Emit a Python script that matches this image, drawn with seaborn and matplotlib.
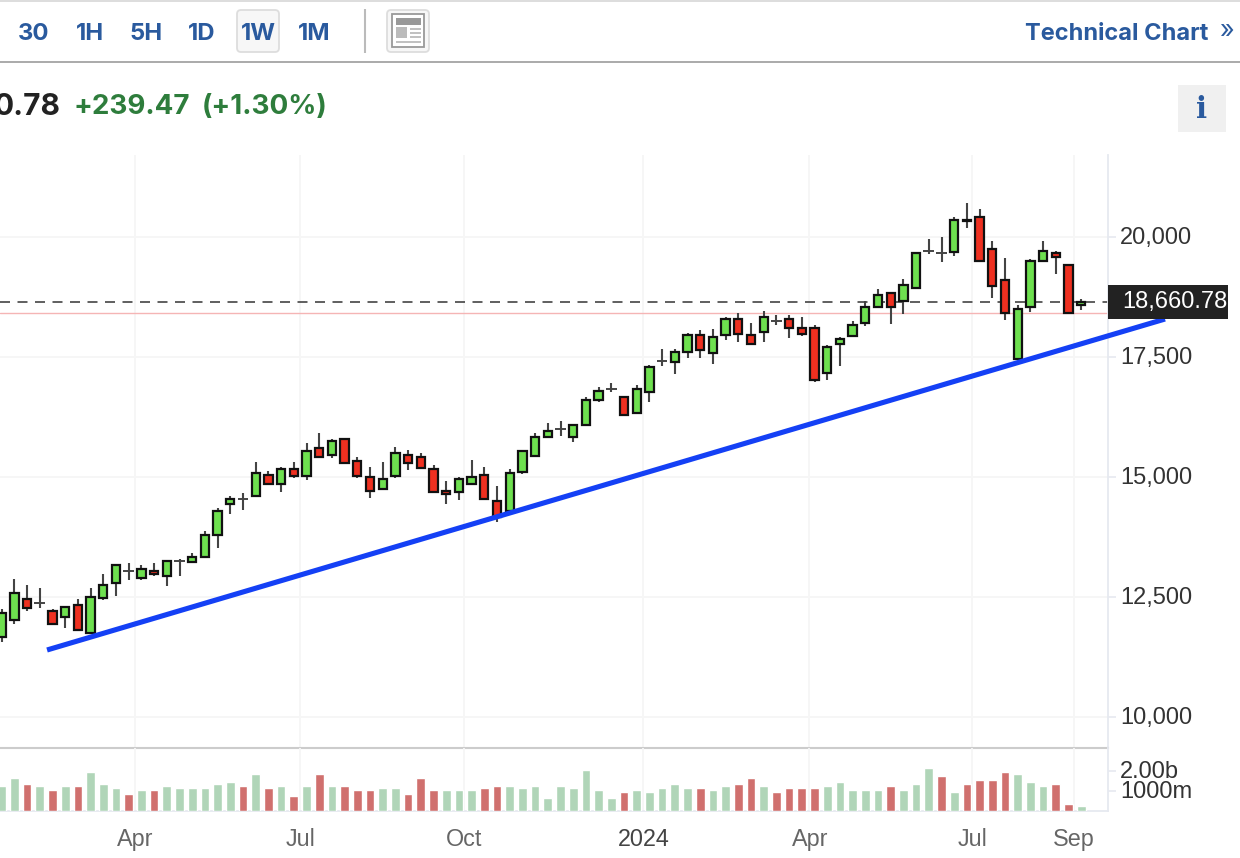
import matplotlib
matplotlib.use('Agg')
import matplotlib.pyplot as plt
from matplotlib.patches import FancyBboxPatch, Rectangle
from matplotlib.transforms import ScaledTranslation
import numpy as np
import pandas as pd
import seaborn as sns

# weekly candles
opens = [11670, 12030, 12460, 12390, 12210, 12080, 12330, 11750, 12480, 12790,
         13040, 12900, 13040, 12950, 13260, 13240, 13330, 13790, 14450, 14550,
         14620, 15040, 14870, 15170, 15030, 15620, 15460, 15790, 15330, 15000,
         14750, 15030, 15460, 15420, 15170, 14720, 14700, 14870, 15040, 14500,
         14290, 15120, 15450, 15830, 16000, 15830, 16080, 16620, 16840, 16670,
         16330, 16780, 17420, 17410, 17620, 17960, 17580, 17960, 18290, 17960,
         18030, 18250, 18290, 18120, 18120, 17170, 17780, 17950, 18210, 18540,
         18830, 18670, 18950, 19710, 19670, 19700, 20370, 20420, 19750, 19120,
         17460, 18540, 19500, 19680, 19420, 18580]
closes = [12170, 12580, 12280, 12390, 11940, 12290, 11820, 12500, 12750, 13170,
          13040, 13080, 12990, 13250, 13260, 13330, 13790, 14290, 14540, 14550,
          15080, 14870, 15170, 15030, 15540, 15420, 15750, 15290, 15030, 14710,
          14960, 15500, 15290, 15200, 14700, 14660, 14960, 15000, 14540, 14180,
          15080, 15540, 15830, 15960, 16000, 16080, 16620, 16790, 16840, 16290,
          16830, 17290, 17420, 17620, 17960, 17660, 17920, 18290, 17990, 17780,
          18330, 18250, 18120, 17990, 17030, 17720, 17880, 18170, 18540, 18790,
          18540, 19000, 19670, 19710, 19670, 20370, 20330, 19500, 18990, 18420,
          18500, 19500, 19710, 19580, 18420, 18660.78]
highs = [12250, 12880, 12760, 12690, 12250, 12290, 12460, 12690, 12980, 13170,
         13220, 13180, 13220, 13260, 13300, 13420, 13880, 14350, 14600, 14670,
         15310, 15140, 15220, 15310, 15720, 15930, 15800, 15790, 15430, 15220,
         15310, 15640, 15560, 15510, 15260, 14920, 15010, 15350, 15220, 14810,
         15180, 15560, 15930, 16140, 16180, 16090, 16670, 16890, 16970, 16680,
         16930, 17340, 17680, 17670, 18000, 18060, 18100, 18350, 18430, 18220,
         18470, 18390, 18390, 18350, 18170, 17760, 17930, 18260, 18680, 18930,
         18870, 19140, 19680, 19970, 20010, 20420, 20720, 20600, 19930, 19560,
         18590, 19540, 19930, 19720, 19430, 18720]
lows = [11570, 11940, 12220, 12270, 11940, 11850, 11820, 11730, 12440, 12530,
        12860, 12860, 12940, 12740, 12940, 13240, 13330, 13530, 14240, 14320,
        14620, 14830, 14690, 14980, 14940, 15420, 15400, 15290, 14980, 14560,
        14750, 14980, 15150, 15190, 14690, 14440, 14530, 14860, 14540, 14070,
        14280, 15060, 15450, 15830, 15860, 15730, 16060, 16570, 16780, 16270,
        16330, 16570, 17320, 17150, 17480, 17480, 17360, 17860, 17810, 17780,
        17810, 18180, 17900, 17940, 16990, 17030, 17320, 17950, 18150, 18540,
        18190, 18400, 18940, 19650, 19490, 19610, 20190, 19490, 18730, 18280,
        17440, 18440, 19490, 19240, 18400, 18490]

# volume in millions, with the colour of each bar
volumes = [1250, 1650, 1350, 1250, 1050, 1250, 1250, 1950, 1350, 1150,
           850, 1050, 1050, 1250, 1150, 1150, 1150, 1350, 1450, 1250,
           1850, 1150, 1250, 750, 1250, 1850, 1250, 1250, 1050, 1050,
           1150, 1150, 850, 1650, 1050, 1050, 1050, 1050, 1150, 1250,
           1250, 1150, 1250, 650, 1250, 1150, 2050, 1050, 650, 950,
           1050, 950, 1150, 1350, 1150, 1150, 1050, 1250, 1350, 1650,
           1250, 950, 1150, 1150, 1150, 1250, 1450, 1050, 1050, 1050,
           1250, 1050, 1350, 2150, 1750, 950, 1350, 1550, 1550, 1950,
           1850, 1450, 1250, 1350, 350, 250]
volume_dirs = list('GGRGRGRGGG' 'RGRGGGGGGR' 'GRGRGRGRRR' 'GGRRRGGGRR' 'GGGGGGGGGR'
                   'GGGGGRGGRR' 'GRRRRGGGGG' 'RGGGRGRRRR' 'GGGRRG')

month_ticks = [10.5, 23.5, 36.4, 50.5, 63.6, 76.4, 84.4]
month_labels = ['Apr', 'Jul', 'Oct', '2024', 'Apr', 'Jul', 'Sep']
price_ticks = [10000, 12500, 15000, 17500, 20000]
price_labels = ['10,000', '12,500', '15,000', '17,500', '20,000']
volume_ticks = [1000, 2000]
volume_labels = ['1000m', '2.00b']

last_price = 18660.78
prev_close = 18421.31
trend_weeks = [3.57, 91.6]
trend_prices = [11402, 18298]

intervals = ['30', '1H', '5H', '1D', '1W', '1M']
interval_x = [34, 90, 146, 202, 258, 314]

BLUE = '#2a5a9e'
GRID = '#f6f6f6'
AXIS = '#e6e9f0'
TICK_TEXT = '#333333'

W, H = 1240, 858


def panel(left, top, right, bottom):
    # axes position from pixel edges
    return [left / W, 1 - bottom / H, (right - left) / W, (bottom - top) / H]


def nudge(labels, dx_px, dy_px):
    # shift tick labels by a few pixels (y up)
    for label in labels:
        label.set_transform(label.get_transform() + ScaledTranslation(dx_px / 100, dy_px / 100, fig.dpi_scale_trans))


sns.set_theme(style='white')
plt.rcParams['font.family'] = ['Liberation Sans', 'DejaVu Sans']

fig = plt.figure(figsize=(12.4, 8.58), dpi=100, facecolor='white')
ax = fig.add_axes(panel(0, 155, 1108, 748))
ax_vol = fig.add_axes(panel(0, 748, 1108, 811.3))
x_limits = (-0.134, 87.11)

# price panel
weeks = np.arange(len(closes))
o = np.array(opens)
c = np.array(closes)
is_doji = o == c
colors = np.where(c > o, '#6ee04f', '#ee3020')

ax.vlines(weeks, lows, highs, color='#444444', lw=1.5, zorder=3)
ax.bar(weeks[~is_doji], np.abs(c - o)[~is_doji], bottom=np.minimum(o, c)[~is_doji],
       width=0.66, color=colors[~is_doji], edgecolor='#111111', linewidth=1.6, zorder=4)
ax.hlines(c[is_doji], weeks[is_doji] - 0.42, weeks[is_doji] + 0.42, color='#444444', lw=1.4, zorder=4)

ax.axhline(prev_close, color='#f5b5b5', lw=1.0, zorder=2)
ax.axhline(last_price, color='#444444', lw=1.2, dashes=(6, 4.5), zorder=2)
sns.lineplot(x=trend_weeks, y=trend_prices, color='#1440f5', lw=3.7, ax=ax,
             clip_on=False, zorder=6, solid_capstyle='butt')

ax.set_xlim(x_limits)
ax.set_ylim(9360, 21715)
ax.set_xticks(month_ticks)
ax.set_yticks(price_ticks)
ax.set_yticklabels(price_labels)
ax.yaxis.tick_right()
ax.grid(True, color=GRID, lw=1.3)
ax.set_axisbelow(True)
ax.tick_params(axis='x', length=0, labelbottom=False)
ax.tick_params(axis='y', length=5.8, width=1.2, color=AXIS, pad=3, labelsize=17, labelcolor=TICK_TEXT)
nudge(ax.get_yticklabels(), 0, 1.5)
for side in ['top', 'left']:
    ax.spines[side].set_visible(False)
ax.spines['right'].set_color(AXIS)
ax.spines['right'].set_linewidth(1.3)
ax.spines['bottom'].set_color('#cccccc')
ax.spines['bottom'].set_linewidth(1.5)

# volume panel
vol_df = pd.DataFrame({'week': weeks, 'volume': volumes, 'dir': volume_dirs})
sns.barplot(data=vol_df, x='week', y='volume', hue='dir', palette={'G': '#b0d5b8', 'R': '#d0706e'},
            dodge=False, width=0.68, saturation=1, legend=False, ax=ax_vol, zorder=3)
ax_vol.set_xlim(x_limits)
ax_vol.set_ylim(0, 3165)
ax_vol.set_xlabel('')
ax_vol.set_ylabel('')
ax_vol.set_xticks(month_ticks)
ax_vol.set_xticklabels(month_labels)
ax_vol.set_yticks(volume_ticks)
ax_vol.set_yticklabels(volume_labels)
ax_vol.yaxis.tick_right()
ax_vol.grid(True, axis='x', color=GRID, lw=1.3)
ax_vol.set_axisbelow(True)
ax_vol.patch.set_alpha(0)
ax_vol.tick_params(axis='x', length=7, width=1.2, color=AXIS, pad=5, labelsize=16.8, labelcolor='#666666')
ax_vol.tick_params(axis='y', length=5.8, width=1.2, color=AXIS, pad=3, labelsize=17, labelcolor=TICK_TEXT)
ax_vol.get_xticklabels()[3].set_color('#444444')
nudge(ax_vol.get_xticklabels(), 0.5, 0)
nudge(ax_vol.get_yticklabels(), 0, 2)
for side in ['top', 'left']:
    ax_vol.spines[side].set_visible(False)
for side in ['right', 'bottom']:
    ax_vol.spines[side].set_color(AXIS)
    ax_vol.spines[side].set_linewidth(1.3)

# page furniture around the chart, in pixel coordinates
page = fig.add_axes([0, 0, 1, 1], zorder=10)
page.set_xlim(0, W)
page.set_ylim(H, 0)
page.axis('off')
page.patch.set_alpha(0)

page.hlines(1, 0, W, color='#dddddd', lw=1.4)
page.hlines(62, 0, W, color='#aaaaaa', lw=1.4)
page.vlines(365, 9, 53, color='#bbbbbb', lw=1.5)
page.add_patch(FancyBboxPatch((237, 10), 42, 42, boxstyle='round,pad=0,rounding_size=4',
                              fc='#f7f7f7', ec='#dddddd', lw=1.3))
page.add_patch(FancyBboxPatch((387, 10), 42, 42, boxstyle='round,pad=0,rounding_size=4',
                              fc='#f7f7f7', ec='#dddddd', lw=1.3))
page.add_patch(Rectangle((392, 14), 32, 33, fc='white', ec='#999999', lw=1.3))
page.add_patch(Rectangle((396, 18), 25, 7, fc='#999999', ec='none'))
page.add_patch(Rectangle((396, 27), 11, 11, fc='#bbbbbb', ec='none'))
page.hlines([29, 33, 37], 410, 421, color='#bbbbbb', lw=1.3)
page.hlines(42, 396, 421, color='#bbbbbb', lw=1.3)

for label, x in zip(intervals, interval_x):
    page.text(x, 34, label, ha='center', va='center', color=BLUE, fontsize=17.2,
              family='Inter', weight='bold')
page.text(1208, 34, 'Technical Chart', ha='right', va='center', color=BLUE, fontsize=17,
          family='Inter', weight='bold')
page.text(1226, 32, '»', ha='center', va='center', color=BLUE, fontsize=18, family='Inter')

page.text(61, 107, '0.78', ha='right', va='center', color='#222222', fontsize=21.5,
          family='Inter', weight='bold')
page.text(74, 107, '+239.47', ha='left', va='center', color='#2e7d3c', fontsize=20,
          family='Inter', weight='bold')
page.text(202, 107, '(+1.30%)', ha='left', va='center', color='#2e7d3c', fontsize=20,
          family='Inter', weight='bold')

page.add_patch(Rectangle((1178, 85), 48, 47, fc='#f0f0f0', ec='none'))
page.text(1202, 110, 'i', ha='center', va='center', color=BLUE, fontsize=21,
          family='DejaVu Serif', weight='bold')

page.add_patch(Rectangle((1108, 285), 120, 34, fc='#222222', ec='none'))
page.text(1122, 302, f'{last_price:,.2f}', ha='left', va='center', color='white', fontsize=17)

fig.savefig('out.png', dpi=100)
